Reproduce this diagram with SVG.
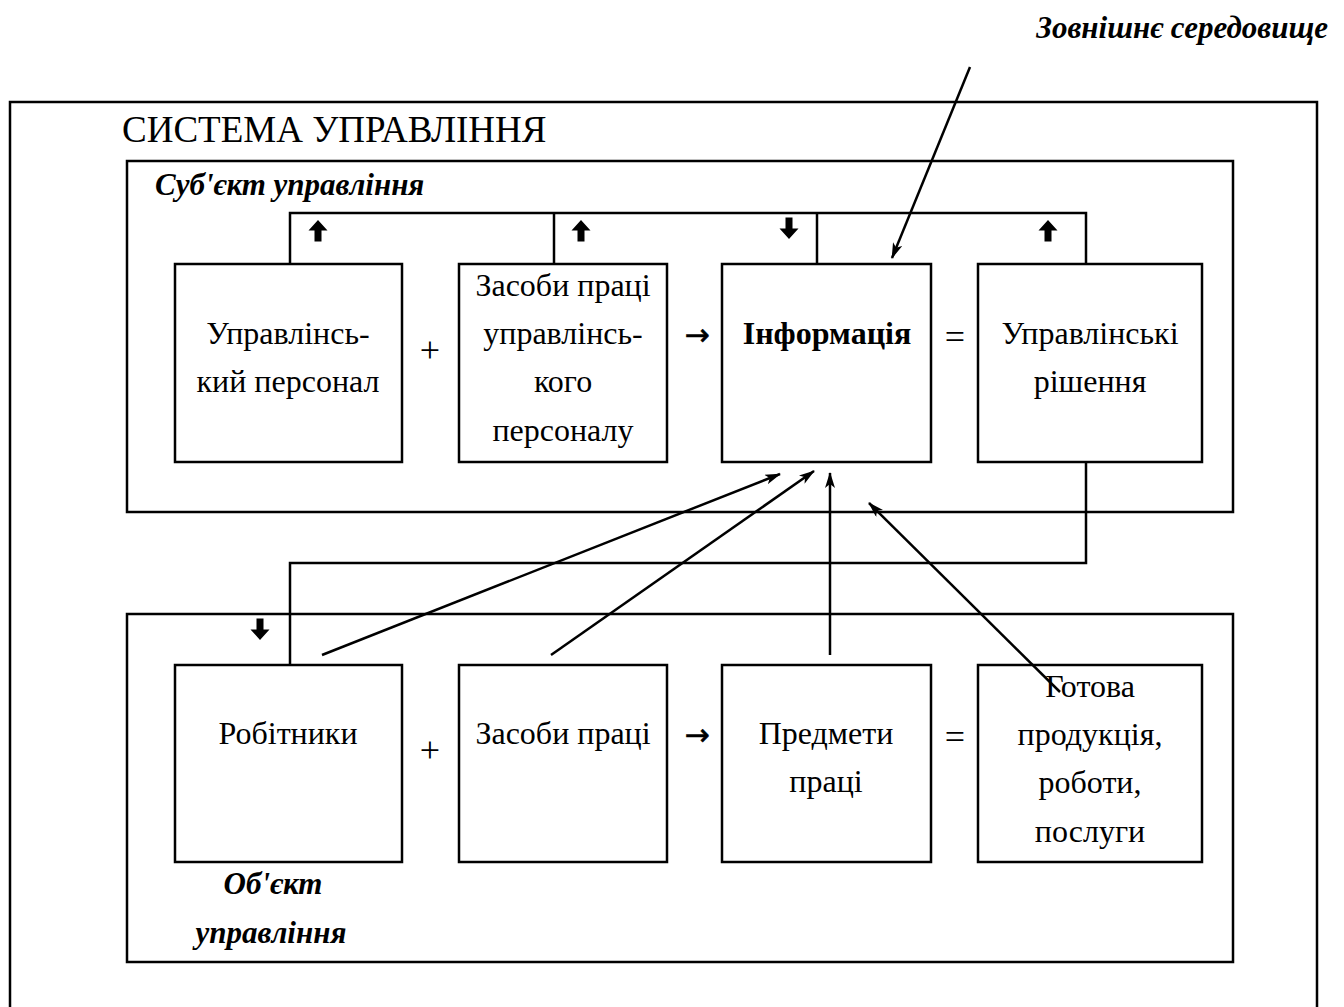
<svg xmlns="http://www.w3.org/2000/svg" width="1344" height="1007" viewBox="0 0 1344 1007">
  <style>
    .frame { fill: none; stroke: #000; stroke-width: 2.5; }
    .box { fill: #fff; stroke: #000; stroke-width: 2.5; }
    .wire { fill: none; stroke: #000; stroke-width: 2.5; }
    .flow { fill: none; stroke: #000; stroke-width: 2.5; marker-end: url(#head); }
    .t { font-family: "Liberation Serif", "DejaVu Serif", serif; font-size: 32px; fill: #000; text-anchor: middle; }
    .op { font-family: "Liberation Serif", "DejaVu Serif", serif; font-size: 36px; fill: #000; text-anchor: middle; }
    .ar { font-family: "DejaVu Sans", sans-serif; font-size: 30px; fill: #000; text-anchor: middle; stroke: #000; stroke-width: 0.6; }
    .bi { font-family: "Liberation Serif", "DejaVu Serif", serif; font-size: 31px; font-weight: bold; font-style: italic; fill: #000; }
    .blk { fill: #000; }
  </style>
  <defs>
    <marker id="head" viewBox="0 0 16 10" refX="15" refY="5" markerWidth="16" markerHeight="10" markerUnits="userSpaceOnUse" orient="auto">
      <path d="M0,0 L16,5 L0,10 L4,5 Z" fill="#000"/>
    </marker>
    <!-- bold block arrow pointing up -->
    <path id="up" d="M0,-11 L9.5,-0.5 L3.5,-0.5 L3.5,10.5 L-3.5,10.5 L-3.5,-0.5 L-9.5,-0.5 Z"/>
  </defs>

  <rect width="1344" height="1007" fill="#fff"/>

  <!-- outer system frame (open at the bottom) -->
  <path class="frame" d="M10,1010 L10,102 L1317,102 L1317,1010"/>
  <text x="122" y="142" style="font-family:'Liberation Serif','DejaVu Serif',serif;font-size:37px">СИСТЕМА УПРАВЛІННЯ</text>
  <text class="bi" x="1328" y="38" text-anchor="end">Зовнішнє середовище</text>

  <!-- subject of management -->
  <g id="subject">
    <rect class="frame" x="127" y="161" width="1106" height="351"/>
    <text class="bi" x="155" y="195">Суб'єкт управління</text>
  </g>

  <!-- object of management -->
  <g id="object">
    <rect class="frame" x="127" y="614" width="1106" height="348"/>
    <text class="bi" x="273" y="894" text-anchor="middle">Об'єкт</text>
    <text class="bi" x="271" y="943" text-anchor="middle">управління</text>
  </g>

  <!-- upper row -->
  <g id="staff">
    <rect class="box" x="175" y="264" width="227" height="198"/>
    <text class="t" x="288" y="344">Управлінсь-</text>
    <text class="t" x="288" y="392">кий персонал</text>
  </g>
  <g id="mgmt-tools">
    <rect class="box" x="459" y="264" width="208" height="198"/>
    <text class="t" x="563" y="296">Засоби праці</text>
    <text class="t" x="563" y="344">управлінсь-</text>
    <text class="t" x="563" y="392">кого</text>
    <text class="t" x="563" y="441">персоналу</text>
  </g>
  <g id="information">
    <rect class="box" x="722" y="264" width="209" height="198"/>
    <text class="t" x="827" y="344" font-weight="bold">Інформація</text>
  </g>
  <g id="decisions">
    <rect class="box" x="978" y="264" width="224" height="198"/>
    <text class="t" x="1090" y="344">Управлінські</text>
    <text class="t" x="1090" y="392">рішення</text>
  </g>
  <text class="op" x="430" y="362">+</text>
  <text class="ar" x="697" y="345">→</text>
  <text class="op" x="955" y="349">=</text>

  <!-- lower row -->
  <g id="workers">
    <rect class="box" x="175" y="665" width="227" height="197"/>
    <text class="t" x="288" y="744">Робітники</text>
  </g>
  <g id="tools">
    <rect class="box" x="459" y="665" width="208" height="197"/>
    <text class="t" x="563" y="744">Засоби праці</text>
  </g>
  <g id="materials">
    <rect class="box" x="722" y="665" width="209" height="197"/>
    <text class="t" x="826" y="744">Предмети</text>
    <text class="t" x="826" y="792">праці</text>
  </g>
  <g id="products">
    <rect class="box" x="978" y="665" width="224" height="197"/>
    <text class="t" x="1090" y="697">Готова</text>
    <text class="t" x="1090" y="745">продукція,</text>
    <text class="t" x="1090" y="793">роботи,</text>
    <text class="t" x="1090" y="842">послуги</text>
  </g>
  <text class="op" x="430" y="762">+</text>
  <text class="ar" x="697" y="745">→</text>
  <text class="op" x="955" y="749">=</text>

  <!-- connectors (drawn last so the feed lines run over the boxes) -->
  <g id="connectors">
    <path class="wire" d="M290,264 L290,213 L1086,213 L1086,264"/>
    <path class="wire" d="M554,213 L554,264"/>
    <path class="wire" d="M817,213 L817,264"/>
    <path class="wire" d="M1086,462 L1086,563 L290,563 L290,665"/>
    <use href="#up" class="blk" x="318" y="231"/>
    <use href="#up" class="blk" x="581" y="231"/>
    <use href="#up" class="blk" x="1048" y="231"/>
    <use href="#up" class="blk" transform="translate(789,228) rotate(180)"/>
    <use href="#up" class="blk" transform="translate(260,629) rotate(180)"/>
    <line class="flow" x1="970" y1="67" x2="892" y2="258"/>
    <line class="flow" x1="322" y1="655" x2="780" y2="474"/>
    <line class="flow" x1="551" y1="655" x2="814" y2="471"/>
    <line class="flow" x1="830" y1="655" x2="830" y2="473"/>
    <line class="flow" x1="1060" y1="692" x2="869" y2="503"/>
  </g>
</svg>
